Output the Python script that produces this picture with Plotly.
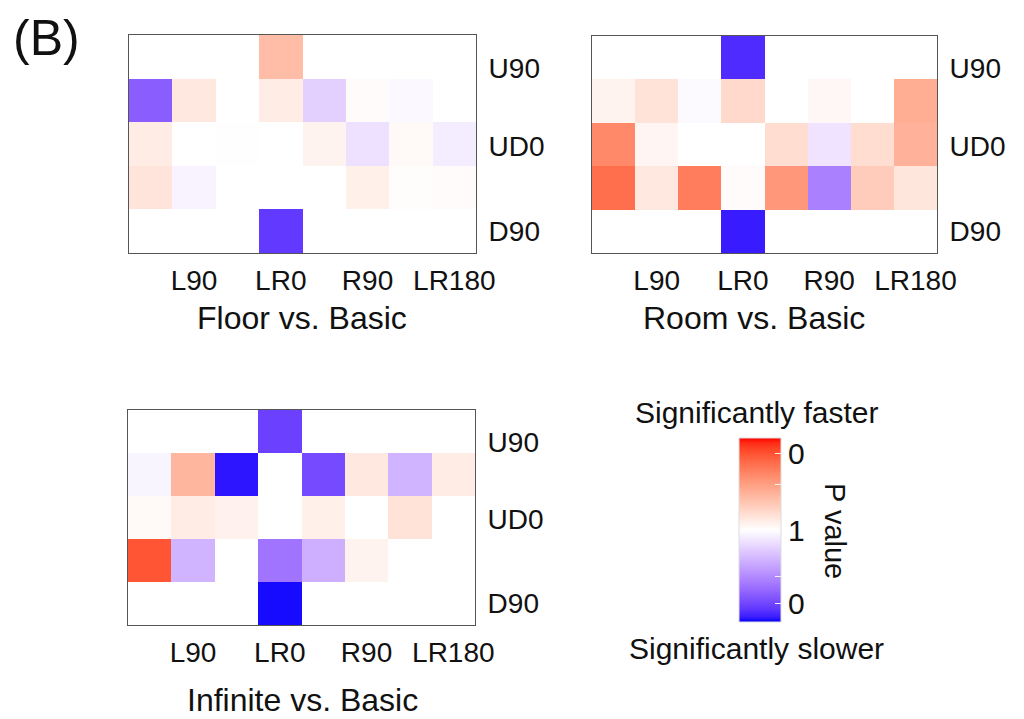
import numpy as np
import plotly.graph_objects as go

# ---------------- data ----------------
columns = ["c1", "L90", "c3", "LR0", "c5", "R90", "c7", "LR180"]
rows = ["U90", "r2", "UD0", "r4", "D90"]
x_tick_labels = ["L90", "LR0", "R90", "LR180"]
y_tick_labels = ["U90", "UD0", "D90"]

# signed significance score: +1 = significantly faster (p->0), 0 = p=1, -1 = significantly slower (p->0)
floor_vals = [
    [None, None, None, 0.35, None, None, None, None],
    [-0.70, 0.12, 0.0, 0.10, -0.20, 0.02, -0.03, 0.0],
    [0.10, 0.0, 0.005, 0.0, 0.06, -0.13, 0.03, -0.08],
    [0.14, -0.05, 0.0, 0.0, 0.0, 0.08, 0.01, 0.02],
    [None, None, None, -0.85, None, None, None, None],
]
room_vals = [
    [None, None, None, -0.90, None, None, None, None],
    [0.06, 0.15, -0.02, 0.20, 0.0, 0.04, 0.0, 0.42],
    [0.60, 0.05, 0.0, 0.0, 0.18, -0.12, 0.18, 0.40],
    [0.72, 0.12, 0.66, 0.02, 0.53, -0.55, 0.27, 0.13],
    [None, None, None, -0.95, None, None, None, None],
]
infinite_vals = [
    [None, None, None, -0.82, None, None, None, None],
    [-0.04, 0.38, -0.96, 0.0, -0.78, 0.12, -0.32, 0.10],
    [0.03, 0.10, 0.07, 0.0, 0.08, 0.0, 0.15, 0.0],
    [0.82, -0.32, 0.0, -0.60, -0.34, 0.06, 0.0, 0.0],
    [None, None, None, -0.98, None, None, None, None],
]
panel_titles = ["Floor vs. Basic", "Room vs. Basic", "Infinite vs. Basic"]
cbar_tick_vals = [-0.8, -0.5, 0.0, 0.5, 0.83]
cbar_tick_text = ["0", "", "1", "", "0"]

# ---------------- colour scale (Lab interpolation blue-white-red) ----------------
def srgb_to_lab(rgb):
    c = np.array(rgb, dtype=float) / 255.0
    lin = np.where(c <= 0.04045, c / 12.92, ((c + 0.055) / 1.055) ** 2.4)
    M = np.array([[0.4124564, 0.3575761, 0.1804375],
                  [0.2126729, 0.7151522, 0.0721750],
                  [0.0193339, 0.1191920, 0.9503041]])
    xyz = M @ lin
    wp = np.array([0.95047, 1.0, 1.08883])
    t = xyz / wp
    f = np.where(t > (6 / 29) ** 3, np.cbrt(t), t / (3 * (6 / 29) ** 2) + 4 / 29)
    return np.array([116 * f[1] - 16, 500 * (f[0] - f[1]), 200 * (f[1] - f[2])])

def lab_to_srgb(lab):
    L, a, b = lab
    fy = (L + 16) / 116
    fx = fy + a / 500
    fz = fy - b / 200
    f = np.array([fx, fy, fz])
    t = np.where(f > 6 / 29, f ** 3, 3 * (6 / 29) ** 2 * (f - 4 / 29))
    wp = np.array([0.95047, 1.0, 1.08883])
    xyz = t * wp
    Minv = np.array([[3.2404542, -1.5371385, -0.4985314],
                     [-0.9692660, 1.8760108, 0.0415560],
                     [0.0556434, -0.2040259, 1.0572252]])
    lin = np.clip(Minv @ xyz, 0, 1)
    c = np.where(lin <= 0.0031308, 12.92 * lin, 1.055 * lin ** (1 / 2.4) - 0.055)
    return tuple(int(round(v)) for v in np.clip(c * 255, 0, 255))

blue_lab = srgb_to_lab((0, 0, 255))
white_lab = srgb_to_lab((255, 255, 255))
red_lab = srgb_to_lab((255, 0, 0))
colorscale = []
n = 20
for i in range(n + 1):
    t = i / n
    col = lab_to_srgb(blue_lab + (white_lab - blue_lab) * t)
    colorscale.append([0.5 * t, "rgb(%d,%d,%d)" % col])
for i in range(1, n + 1):
    t = i / n
    col = lab_to_srgb(white_lab + (red_lab - white_lab) * t)
    colorscale.append([0.5 + 0.5 * t, "rgb(%d,%d,%d)" % col])

# ---------------- figure ----------------
W, H = 1024, 719
def px(v):
    return v / W
def py(v):
    return 1 - v / H

FONT = "Liberation Sans, Arial, sans-serif"
fig = go.Figure()

panels = [
    (floor_vals, (129, 476), (35, 253)),
    (room_vals, (592, 937), (36, 253)),
    (infinite_vals, (128, 475), (410, 625)),
]
xi = list(range(len(columns)))
yi = list(range(len(rows)))
x_tick_pos = [columns.index(c) for c in x_tick_labels]
y_tick_pos = [0.25, 2.05, 4.0]

for k, (vals, (x0, x1), (y0, y1)) in enumerate(panels):
    sfx = "" if k == 0 else str(k + 1)
    fig.add_trace(go.Heatmap(
        z=vals, x=xi, y=yi, coloraxis="coloraxis",
        xaxis="x" + sfx, yaxis="y" + sfx, xgap=0, ygap=0,
        hoverongaps=False,
    ))
    fig.layout["xaxis" + sfx] = dict(
        domain=[px(x0), px(x1)], range=[-0.5, 7.5], anchor="y" + sfx,
        tickvals=x_tick_pos, ticktext=x_tick_labels, ticks="",
        ticklabelstandoff=2, automargin=False,
        showline=True, mirror=True, linecolor="#555555", linewidth=1,
        showgrid=False, zeroline=False, fixedrange=True,
        tickfont=dict(family=FONT, size=28, color="#111111"),
    )
    fig.layout["yaxis" + sfx] = dict(
        domain=[py(y1), py(y0)], range=[4.5, -0.5], anchor="x" + sfx,
        side="right", tickvals=y_tick_pos, ticktext=y_tick_labels, ticks="",
        ticklabelstandoff=6, automargin=False,
        showline=True, mirror=True, linecolor="#555555", linewidth=1,
        showgrid=False, zeroline=False, fixedrange=True,
        tickfont=dict(family=FONT, size=28, color="#111111"),
    )

fig.update_layout(
    width=W, height=H, autosize=False,
    margin=dict(l=0, r=0, t=0, b=0, autoexpand=False),
    paper_bgcolor="white", plot_bgcolor="white",
    showlegend=False,
    font=dict(family=FONT, color="#111111"),
    coloraxis=dict(
        cmin=-1, cmax=1, colorscale=colorscale,
        colorbar=dict(
            x=px(739), xanchor="left", xpad=0,
            y=py(530), yanchor="middle", ypad=0,
            len=184, lenmode="pixels", thickness=42, thicknessmode="pixels",
            outlinewidth=1, outlinecolor="#dddddd",
            tickvals=cbar_tick_vals, ticktext=cbar_tick_text,
            ticks="inside", ticklen=6, tickcolor="rgba(255,255,255,0.9)",
            tickfont=dict(family=FONT, size=30, color="#111111"),
        ),
    ),
)

annotations = [
    dict(text="(B)", x=px(46), y=py(38), font=dict(size=50)),
    dict(text=panel_titles[0], x=px(302), y=py(318), font=dict(size=32)),
    dict(text=panel_titles[1], x=px(754), y=py(318), font=dict(size=32)),
    dict(text=panel_titles[2], x=px(302), y=py(700), font=dict(size=32)),
    dict(text="Significantly faster", x=px(756), y=py(412), font=dict(size=30)),
    dict(text="Significantly slower", x=px(756), y=py(648), font=dict(size=30)),
    dict(text="P value", x=px(835), y=py(531), font=dict(size=29), textangle=90),
]
for a in annotations:
    a.update(xref="paper", yref="paper", showarrow=False,
             xanchor="center", yanchor="middle")
    a["font"].update(family=FONT, color="#111111")
fig.update_layout(annotations=annotations)

fig.write_html(
    "out.html",
    config={"displayModeBar": False, "responsive": False},
    post_script=(
        "document.documentElement.style.overflow='hidden';"
        "document.body.style.overflow='hidden';"
        "document.body.style.margin='0px';"
    ),
)
